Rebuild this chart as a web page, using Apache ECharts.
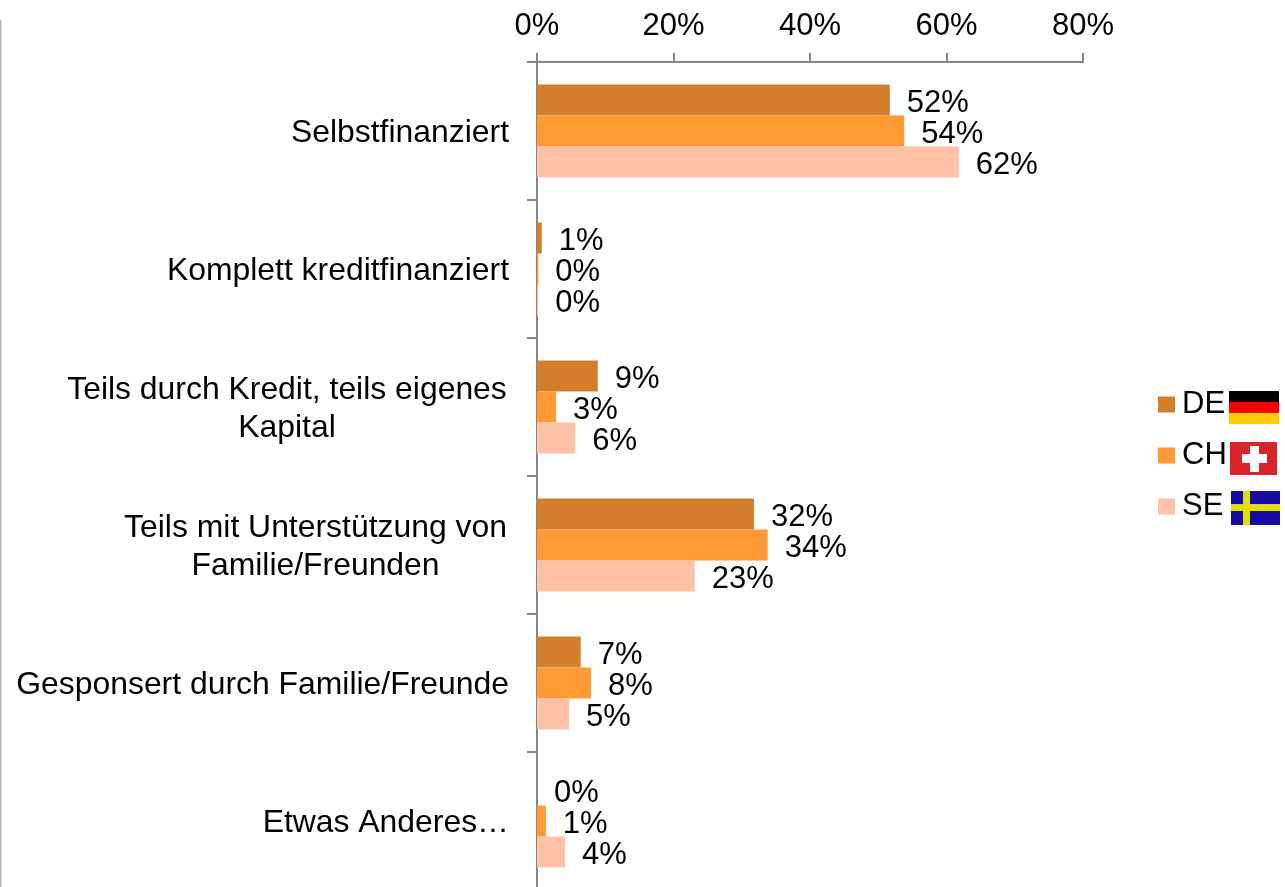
<!DOCTYPE html>
<html>
<head>
<meta charset="utf-8">
<style>html,body{margin:0;padding:0;background:#fff;overflow:hidden}#c{width:1285px;height:887px}</style>
<script src="https://cdn.jsdelivr.net/npm/echarts@6/dist/echarts.min.js"></script>
</head>
<body>
<div id="c"></div>
<script>
const categories = ['Selbstfinanziert','Komplett kreditfinanziert','Teils durch Kredit, teils eigenes\nKapital','Teils mit Unterstützung von\nFamilie/Freunden','Gesponsert durch Familie/Freunde','Etwas Anderes…'];
const seriesNames = ['DE','CH','SE'];
const valuesDE = [51.7,0.7,8.9,31.8,6.4,0];
const valuesCH = [53.8,0.2,2.8,33.8,7.9,1.3];
const valuesSE = [61.8,0.2,5.6,23.1,4.7,4.1];
const labelsDE = ['52%','1%','9%','32%','7%','0%'];
const labelsCH = ['54%','0%','3%','34%','8%','1%'];
const labelsSE = ['62%','0%','6%','23%','5%','4%'];
const colors = ['#D27E2A','#FF9933','#FFC2A6'];
const FONT = '"Liberation Sans", Arial, sans-serif';
const FS = 31;
const CAT_FS = 31.9;

const mk = (name, data, labels, color) => ({
  name, type:'bar', data, barWidth:31, barGap:0,
  itemStyle:{color},
  label:{show:true, position:'right', distance:17, offset:[0,3], color:'#000', fontFamily:FONT, fontSize:FS,
    formatter:p=>labels[p.dataIndex]}
});

const chart = echarts.init(document.getElementById('c'), null, {renderer:'canvas'});
const wrapStyle = w => ({width:w, align:'center', fontFamily:FONT, fontSize:CAT_FS, lineHeight:38, color:'#000'});
chart.setOption({
  animation:false,
  backgroundColor:'#fff',
  color:colors,
  grid:{left:537, top:62, width:546, height:828, containLabel:false, outerBoundsMode:'none'},
  xAxis:{type:'value', position:'top', min:0, max:80, interval:20,
    splitLine:{show:false},
    axisLine:{show:true, lineStyle:{color:'#868686', width:2}},
    axisTick:{show:true, length:9, lineStyle:{color:'#868686', width:2}},
    axisLabel:{formatter:'{value}%', margin:20, color:'#000', fontFamily:FONT, fontSize:FS}},
  yAxis:{type:'category', inverse:true, data:categories,
    axisLine:{show:true, lineStyle:{color:'#868686', width:2}},
    axisTick:{show:true, length:10, alignWithLabel:false, lineStyle:{color:'#868686', width:2}},
    axisLabel:{margin:28, interval:0, color:'#000', fontFamily:FONT, fontSize:CAT_FS, lineHeight:38, padding:[5,0,0,0],
      formatter:v=>{
        if(v.indexOf('\n')<0) return v;
        const k = v.startsWith('Teils durch') ? 'a' : 'b';
        return v.split('\n').map(s=>'{'+k+'|'+s+'}').join('\n');
      },
      rich:{a:wrapStyle(444), b:wrapStyle(387)}}},
  legend:{orient:'vertical', left:1158, top:385, padding:0, itemWidth:17, itemHeight:16, itemGap:12, icon:'rect',
    data:seriesNames, selectedMode:false,
    textStyle:{color:'#000', fontFamily:FONT, fontSize:FS, lineHeight:35, padding:[4,0,0,2]}},
  series:[mk('DE',valuesDE,labelsDE,colors[0]), mk('CH',valuesCH,labelsCH,colors[1]), mk('SE',valuesSE,labelsSE,colors[2])],
  graphic:[
    {type:'rect', shape:{x:0,y:20,width:1.5,height:867}, style:{fill:'#b4b4b4'}},
    {type:'rect', shape:{x:1229,y:391,width:50,height:11}, style:{fill:'#000'}},
    {type:'rect', shape:{x:1229,y:402,width:50,height:11}, style:{fill:'#ff0000'}},
    {type:'rect', shape:{x:1229,y:413,width:50,height:11}, style:{fill:'#ffcc00'}},
    {type:'rect', shape:{x:1230,y:442,width:47,height:33}, style:{fill:'#d9252a'}},
    {type:'rect', shape:{x:1242,y:454,width:25,height:9}, style:{fill:'#fff'}},
    {type:'rect', shape:{x:1250,y:446,width:9,height:26}, style:{fill:'#fff'}},
    {type:'rect', shape:{x:1231,y:491,width:49,height:34}, style:{fill:'#1a0aa5'}},
    {type:'rect', shape:{x:1231,y:504,width:49,height:7}, style:{fill:'#e0e000'}},
    {type:'rect', shape:{x:1243,y:491,width:7,height:34}, style:{fill:'#e0e000'}}
  ]
});
</script>
</body>
</html>
